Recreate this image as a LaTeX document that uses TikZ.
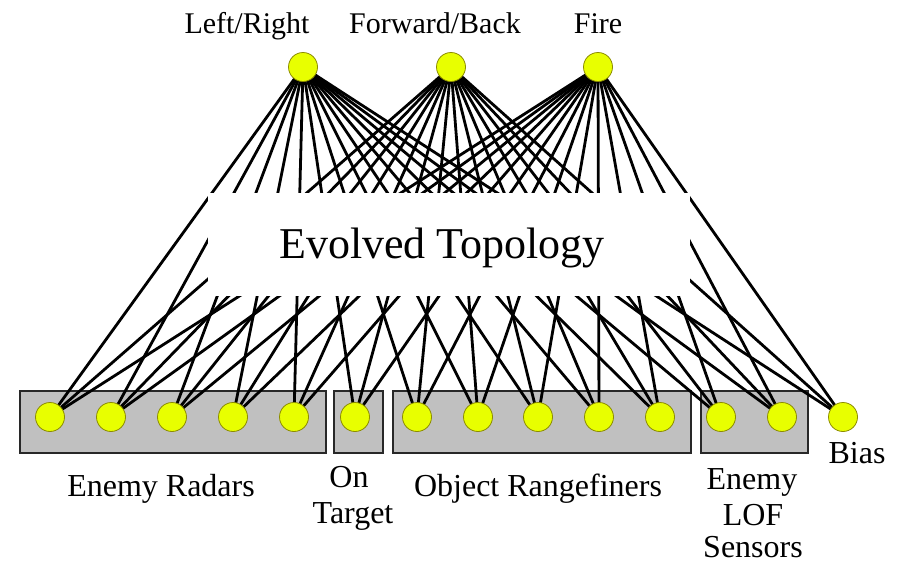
\documentclass[tikz,border=0pt]{standalone}
\usepackage{fontspec}
\setmainfont{Liberation Serif}
\definecolor{neuronyellow}{RGB}{232,255,0}
\definecolor{neuronedge}{RGB}{140,140,0}
\definecolor{groupgray}{RGB}{192,192,192}
\definecolor{boxedge}{RGB}{40,40,40}
\pgfdeclarelayer{boxes}
\pgfdeclarelayer{links}
\pgfdeclarelayer{maskl}
\pgfsetlayers{boxes,links,maskl,main}
\begin{document}
\begin{tikzpicture}[x=1pt,y=-1pt,
  neuron/.style={circle, fill=neuronyellow, draw=neuronedge, line width=0.8pt, minimum size=29pt, inner sep=0pt},
  groupbox/.style={rectangle, fill=groupgray, draw=boxedge, line width=1.8pt, minimum height=62pt, inner sep=0pt},
  link/.style={line width=2.8pt, black},
  lab/.style={font=\fontsize{32}{36}\selectfont, anchor=base, inner sep=0pt},
  toplab/.style={font=\fontsize{30}{34}\selectfont, anchor=base, inner sep=0pt}]
\useasboundingbox (0,0) rectangle (903,563);

% output neurons
\node[neuron] (o1) at (303,67) {};
\node[neuron] (o2) at (451,67) {};
\node[neuron] (o3) at (598,67) {};

% input neurons
\foreach \x [count=\i] in {50,111,172,233,294,355,417,478,538,599,660,721,782,843}
  \node[neuron] (i\i) at (\x,417) {};

% group boxes
\begin{pgfonlayer}{boxes}
  \node[groupbox, minimum width=306pt] (radars) at (173,422) {};
  \node[groupbox, minimum width=49pt] (ontarget) at (358.5,422) {};
  \node[groupbox, minimum width=298pt] (rangefinders) at (542,422) {};
  \node[groupbox, minimum width=107pt] (lof) at (754.5,422) {};
\end{pgfonlayer}

% connections
\begin{pgfonlayer}{links}
  \foreach \o in {1,2,3}
    \foreach \i in {1,...,14}
      \draw[link] (o\o.center) -- (i\i.center);
\end{pgfonlayer}

% white mask
\begin{pgfonlayer}{maskl}
  \node[rectangle, fill=white, inner sep=0pt, minimum width=482pt, minimum height=103pt] (mask) at (449,244.5) {};
\end{pgfonlayer}
\node[font=\fontsize{44}{48}\selectfont, anchor=base, inner sep=0pt] (topology) at (442,258) {Evolved Topology};

% output labels
\node[toplab] (lr) at (247,33) {Left/Right};
\node[toplab] (fb) at (435,33) {Forward/Back};
\node[toplab] (fire) at (598,33) {Fire};

% input labels
\node[lab] (lradars) at (161,496) {Enemy Radars};
\node[lab] (lon) at (349,487) {On};
\node[lab] (ltarget) at (353,523) {Target};
\node[lab] (lrange) at (538,496) {Object Rangefiners};
\node[lab] (lenemy) at (752,489) {Enemy};
\node[lab] (llof) at (753,525) {LOF};
\node[lab] (lsensors) at (753,557) {Sensors};
\node[lab] (lbias) at (857,463) {Bias};
\end{tikzpicture}
\end{document}
